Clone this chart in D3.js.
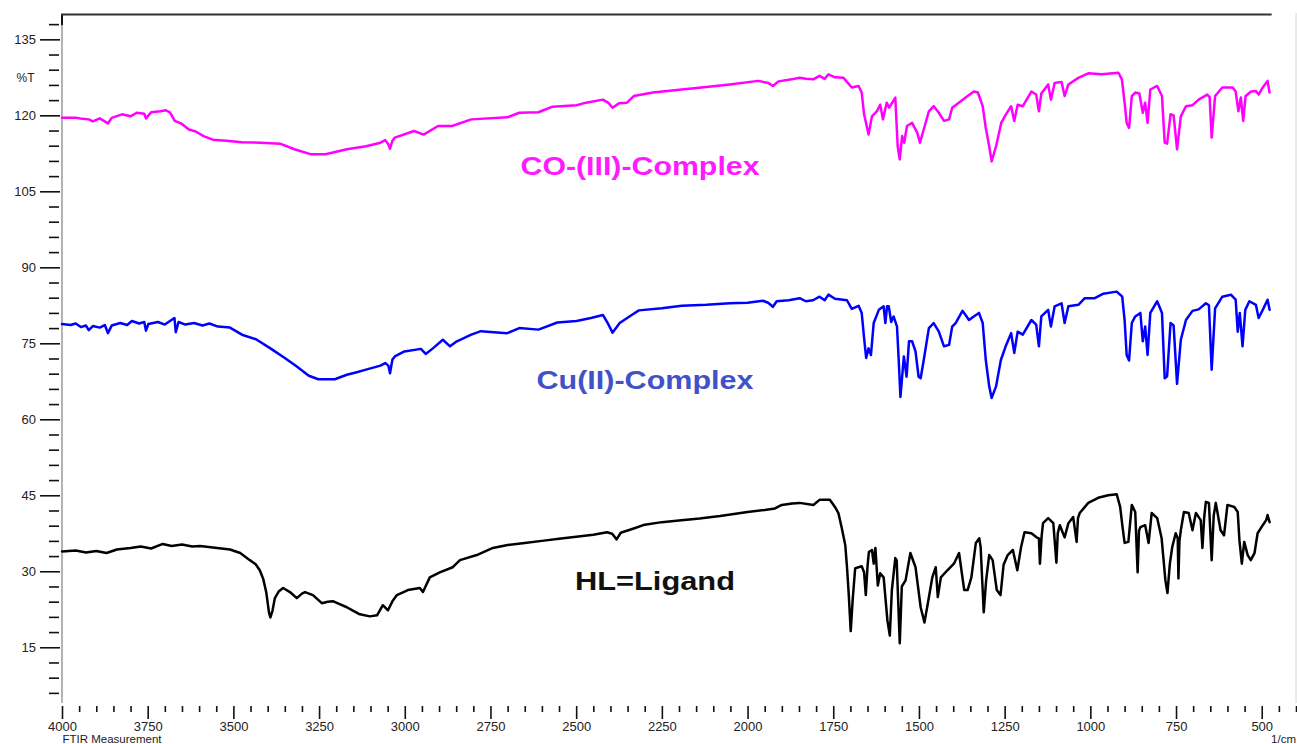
<!DOCTYPE html>
<html>
<head>
<meta charset="utf-8">
<script src="https://cdn.jsdelivr.net/npm/d3@7"></script>
<style>
  html, body { margin: 0; padding: 0; background: #fff; }
  svg { display: block; font-family: "Liberation Sans", Arial, sans-serif; }
</style>
</head>
<body>
<svg id="chart" width="1297" height="744"></svg>
<script>
// FTIR spectra: [wavenumber (1/cm), transmittance (%T)]
const ligand = [
  [4000,33.9],[3960,34.1],[3930,33.7],[3900,34.0],[3870,33.6],[3840,34.3],[3800,34.6],[3770,34.9],
  [3740,34.5],[3706,35.4],[3680,35.0],[3650,35.3],[3620,34.9],[3597,35.0],[3560,34.7],[3510,34.3],
  [3480,33.6],[3452,32.2],[3435,31.4],[3423,30.2],[3413,28.5],[3404,25.8],[3396,21.8],[3392,20.9],
  [3386,22.2],[3379,24.7],[3368,26.0],[3355,26.7],[3335,25.9],[3315,24.7],[3300,25.6],[3291,25.9],
  [3268,25.3],[3242,23.7],[3225,24.0],[3210,24.1],[3190,23.5],[3169,22.9],[3150,22.2],[3131,21.5],
  [3102,21.1],[3081,21.3],[3064,23.3],[3049,22.3],[3035,24.2],[3023,25.3],[2991,26.3],[2956,26.7],
  [2947,25.9],[2927,28.8],[2898,29.8],[2860,30.8],[2839,32.2],[2790,33.2],[2743,34.6],[2700,35.2],
  [2650,35.6],[2600,36.0],[2550,36.4],[2500,36.8],[2450,37.2],[2410,37.7],[2395,37.4],[2382,36.3],
  [2370,37.6],[2330,38.5],[2300,39.2],[2250,39.7],[2200,40.0],[2140,40.4],[2080,40.9],[2000,41.7],
  [1950,42.1],[1920,42.4],[1900,43.1],[1870,43.4],[1848,43.5],[1808,43.1],[1790,44.1],[1760,44.1],
  [1745,42.7],[1735,41.5],[1725,38.5],[1715,35.2],[1710,30.9],[1705,25.7],[1699,18.2],[1693,24.7],
  [1686,30.6],[1667,31.0],[1660,29.8],[1655,25.3],[1650,31.0],[1646,33.8],[1637,34.2],[1632,31.5],
  [1627,34.6],[1620,27.2],[1613,29.6],[1603,28.8],[1592,20.3],[1585,17.3],[1579,26.3],[1569,32.6],
  [1565,32.2],[1556,15.8],[1550,27.0],[1539,28.2],[1525,33.6],[1510,30.8],[1495,22.9],[1484,19.9],
  [1474,23.7],[1461,28.8],[1451,30.8],[1445,24.9],[1436,28.8],[1417,30.2],[1398,31.5],[1383,33.6],
  [1368,26.3],[1358,26.3],[1347,28.8],[1334,35.6],[1324,36.5],[1320,34.8],[1311,21.9],[1304,28.2],
  [1295,33.2],[1285,32.2],[1273,26.3],[1262,25.3],[1253,31.3],[1241,33.2],[1226,34.2],[1213,30.2],
  [1202,34.8],[1192,37.7],[1172,37.5],[1157,36.7],[1150,36.5],[1147,31.5],[1142,37.0],[1138,39.5],
  [1123,40.5],[1108,39.5],[1099,31.7],[1095,37.5],[1089,39.1],[1075,36.7],[1064,39.5],[1050,40.7],
  [1040,35.8],[1036,40.5],[1031,41.5],[1006,43.5],[977,44.5],[948,45.0],[923,45.2],[913,42.7],
  [906,38.7],[900,35.6],[889,35.8],[879,43.1],[869,41.7],[862,29.8],[858,38.0],[854,38.7],
  [840,39.1],[830,35.6],[821,41.5],[805,40.5],[792,36.5],[781,28.2],[775,25.7],[768,31.5],
  [761,34.8],[751,37.5],[745,36.5],[743,28.6],[740,36.0],[736,38.1],[727,41.7],[713,41.5],
  [702,38.1],[692,41.5],[678,40.1],[673,34.6],[668,40.5],[663,43.7],[654,43.5],[646,32.2],
  [640,41.0],[634,43.5],[620,38.1],[610,37.1],[600,43.1],[580,42.7],[570,41.7],[565,36.1],
  [558,31.5],[551,35.8],[541,33.2],[532,32.2],[521,33.6],[512,37.5],[497,39.1],[487,40.1],
  [483,41.1],[477,39.7]
];

const cuComplex = [
  [4000,78.8],[3975,78.6],[3960,78.9],[3945,78.2],[3930,78.5],[3922,77.6],[3910,78.4],[3890,78.1],
  [3875,78.6],[3866,77.0],[3855,78.5],[3830,79.0],[3810,78.6],[3796,79.4],[3775,78.9],[3760,79.2],
  [3755,77.5],[3748,78.8],[3720,79.2],[3700,78.7],[3685,79.4],[3672,80.0],[3668,77.2],[3660,79.2],
  [3640,78.7],[3615,79.0],[3590,78.5],[3570,78.9],[3545,78.3],[3510,78.1],[3475,76.7],[3434,75.8],
  [3392,74.0],[3350,72.1],[3315,70.4],[3280,68.6],[3252,67.9],[3204,67.9],[3169,68.8],[3140,69.3],
  [3113,69.8],[3071,70.6],[3057,71.1],[3048,70.6],[3043,69.1],[3036,71.8],[3029,72.4],[3001,73.4],
  [2953,73.9],[2939,72.9],[2918,74.0],[2889,75.7],[2868,74.4],[2848,75.4],[2806,76.7],[2778,77.4],
  [2740,77.2],[2701,77.0],[2666,78.0],[2610,77.7],[2555,79.1],[2499,79.4],[2457,80.0],[2422,80.6],
  [2408,79.0],[2394,77.1],[2373,79.0],[2338,80.6],[2317,81.5],[2250,81.9],[2192,82.4],[2120,82.6],
  [2052,82.9],[2000,83.0],[1955,83.4],[1940,83.0],[1926,82.2],[1915,83.3],[1880,83.5],[1848,83.9],
  [1830,83.3],[1809,83.5],[1790,84.2],[1775,83.5],[1764,84.6],[1745,83.8],[1710,83.5],[1696,81.8],
  [1676,82.4],[1667,81.0],[1660,76.0],[1654,72.1],[1647,74.0],[1640,72.7],[1632,79.0],[1617,81.6],
  [1603,82.3],[1598,79.0],[1593,82.3],[1588,82.3],[1581,79.2],[1574,80.3],[1564,78.3],[1559,71.7],
  [1554,64.4],[1549,68.4],[1544,72.4],[1536,68.4],[1529,75.4],[1520,75.4],[1510,73.4],[1501,68.4],
  [1495,68.1],[1486,71.7],[1471,78.0],[1457,79.0],[1442,77.3],[1427,74.4],[1412,74.7],[1403,78.3],
  [1393,79.0],[1373,81.4],[1364,80.6],[1354,79.6],[1340,80.3],[1325,81.0],[1314,79.0],[1305,71.7],
  [1295,66.5],[1288,64.2],[1275,66.5],[1261,71.7],[1247,74.4],[1231,77.0],[1222,73.1],[1212,77.3],
  [1197,76.7],[1172,79.6],[1158,78.7],[1150,74.4],[1143,80.3],[1123,81.6],[1115,78.3],[1104,82.3],
  [1084,82.9],[1075,79.0],[1064,82.3],[1035,82.6],[1016,83.9],[987,83.9],[962,84.8],[923,85.2],
  [907,84.2],[900,79.6],[894,72.7],[887,71.6],[879,79.0],[869,80.3],[854,81.0],[847,75.4],
  [840,78.3],[833,72.7],[825,81.0],[805,83.3],[791,81.0],[783,68.1],[776,68.5],[766,79.0],
  [757,78.5],[747,67.0],[736,75.7],[721,79.6],[702,81.4],[684,81.7],[663,82.9],[654,82.5],
  [646,69.8],[636,81.9],[615,84.2],[590,84.6],[576,83.6],[570,77.3],[564,81.0],[556,74.4],
  [548,81.6],[536,83.3],[517,82.6],[509,80.0],[497,81.6],[483,83.6],[477,81.6]
];

const coComplex = [
  [4000,119.5],[3960,119.5],[3940,119.3],[3922,119.2],[3910,118.8],[3890,119.4],[3866,118.4],[3855,119.5],
  [3825,120.2],[3800,119.8],[3782,120.5],[3760,120.3],[3755,119.4],[3740,120.6],[3713,120.8],[3697,121.0],
  [3685,120.6],[3671,118.9],[3650,118.3],[3630,117.2],[3610,116.8],[3587,115.9],[3560,115.2],[3520,115.0],
  [3476,114.7],[3420,114.6],[3364,114.4],[3322,113.3],[3273,112.3],[3231,112.3],[3200,112.8],[3169,113.3],
  [3113,113.9],[3071,114.6],[3057,115.1],[3048,114.3],[3043,113.4],[3036,115.0],[3029,115.6],[2973,116.9],
  [2945,116.2],[2903,117.9],[2862,117.9],[2806,119.2],[2701,119.6],[2666,120.5],[2610,120.6],[2569,121.7],
  [2499,122.0],[2471,122.5],[2422,123.1],[2405,122.4],[2394,121.5],[2375,122.4],[2352,122.5],[2332,123.8],
  [2276,124.5],[2192,125.1],[2120,125.6],[2052,126.1],[1969,126.8],[1940,126.4],[1926,125.8],[1910,126.7],
  [1871,127.1],[1848,127.4],[1830,127.2],[1808,127.1],[1790,127.8],[1775,127.2],[1764,128.1],[1745,127.5],
  [1720,127.4],[1696,125.5],[1676,125.8],[1667,124.5],[1660,120.2],[1647,116.2],[1637,119.8],[1623,120.8],
  [1613,122.1],[1605,119.2],[1594,122.5],[1587,121.5],[1569,123.5],[1562,113.9],[1556,111.3],[1549,115.9],
  [1543,114.6],[1535,117.9],[1520,118.5],[1505,116.6],[1497,114.6],[1486,117.2],[1471,120.8],[1457,121.8],
  [1442,120.5],[1427,118.9],[1412,119.2],[1403,121.5],[1378,122.8],[1358,123.8],[1340,124.7],[1328,124.5],
  [1314,121.8],[1305,117.5],[1295,113.9],[1288,110.9],[1275,113.9],[1260,118.5],[1246,120.2],[1231,121.8],
  [1222,118.9],[1212,122.1],[1197,121.8],[1172,124.7],[1158,124.1],[1150,120.8],[1143,124.3],[1123,126.1],
  [1115,123.1],[1104,126.4],[1084,126.6],[1075,123.8],[1064,126.1],[1035,127.4],[1006,128.3],[967,128.1],
  [918,128.4],[908,127.1],[900,122.5],[894,118.5],[887,117.5],[879,123.8],[869,124.5],[857,124.3],
  [847,120.5],[840,122.5],[833,118.5],[825,125.1],[805,125.8],[791,123.8],[783,114.6],[776,114.4],
  [766,120.2],[757,120.0],[747,113.3],[736,119.8],[721,121.8],[702,122.0],[684,123.1],[659,124.1],
  [652,123.6],[646,115.6],[636,123.8],[615,125.5],[585,125.5],[576,124.7],[568,120.8],[561,123.5],
  [554,118.9],[547,123.8],[531,124.7],[517,124.8],[509,124.1],[497,125.5],[483,126.8],[477,124.5]
];

const seriesNames = ["CO-(III)-Complex", "Cu(II)-Complex", "HL=Ligand"];

// Axis ticks
const xMajorTicks = [4000, 3750, 3500, 3250, 3000, 2750, 2500, 2250, 2000, 1750, 1500, 1250, 1000, 750, 500];
const yMajorTicks = [15, 30, 45, 60, 75, 90, 105, 120, 135];
const xMinorTicks = d3.range(4000, 399, -50).filter(v => v % 250 !== 0);
const yMinorTicks = d3.range(6, 139, 3).filter(v => v % 15 !== 0);

const yUnit = "%T";
const xUnit = "1/cm";
const footer = "FTIR Measurement";

// ---- drawing ----
const svg = d3.select("#chart");
const x = d3.scaleLinear().domain([4000, 400]).range([62, 1296]);
const y = d3.scaleLinear().domain([4, 140]).range([703, 14]);

const plotTop = y(140), plotBottom = y(4), plotLeft = x(4000), plotRight = x(400);
const dataEnd = d3.min(ligand, d => d[0]);

// frame
svg.append("line").attr("x1", plotLeft).attr("x2", plotLeft)
  .attr("y1", y(137.8)).attr("y2", plotBottom)
  .attr("stroke", "#9a9a9a").attr("stroke-width", 1.5);
svg.append("line").attr("x1", plotLeft).attr("x2", plotLeft)
  .attr("y1", plotTop).attr("y2", y(137.8))
  .attr("stroke", "#111").attr("stroke-width", 2);
svg.append("line").attr("x1", plotLeft - 1).attr("x2", x(dataEnd - 6))
  .attr("y1", plotTop + 0.5).attr("y2", plotTop + 0.5)
  .attr("stroke", "#333").attr("stroke-width", 2.2);
svg.append("line").attr("x1", plotRight).attr("x2", plotRight)
  .attr("y1", plotTop - 1).attr("y2", plotBottom)
  .attr("stroke", "#d4d4d4").attr("stroke-width", 1);

// y axis
const yMajor = svg.append("g").attr("transform", `translate(${plotLeft - 2},0)`)
  .call(d3.axisLeft(y).tickValues(yMajorTicks).tickSize(20).tickPadding(4));
const yMinor = svg.append("g").attr("transform", `translate(${plotLeft - 3},0)`)
  .call(d3.axisLeft(y).tickValues(yMinorTicks).tickSize(10).tickFormat(""));

// x axis
const xMajor = svg.append("g").attr("transform", `translate(0,${plotBottom + 3})`)
  .call(d3.axisBottom(x).tickValues(xMajorTicks).tickSize(13).tickPadding(3).tickFormat(d3.format("d")));
const xMinor = svg.append("g").attr("transform", `translate(0,${plotBottom + 3})`)
  .call(d3.axisBottom(x).tickValues(xMinorTicks).tickSize(6).tickFormat(""));

[yMajor, yMinor, xMajor, xMinor].forEach(g => {
  g.select(".domain").remove();
  g.selectAll(".tick line").attr("stroke", "#111").attr("stroke-width", 1.6);
  g.selectAll(".tick text").attr("fill", "#222")
    .style("font-family", '"Liberation Sans", Arial, sans-serif').style("font-size", "13px");
});

svg.append("text").attr("x", 25.5).attr("y", y(127.5) + 4.5)
  .attr("text-anchor", "middle").attr("fill", "#222")
  .style("font-size", "12px").text(yUnit);
svg.append("text").attr("x", 1296).attr("y", 742.5)
  .attr("text-anchor", "end")
  .attr("fill", "#222").style("font-size", "11.5px").text(xUnit);
svg.append("text").attr("x", plotLeft + 0.5).attr("y", 742.5)
  .attr("fill", "#222").style("font-size", "11.5px").text(footer);

// spectra
const line = d3.line().x(d => x(d[0])).y(d => y(d[1]));
const spectra = [
  { data: coComplex, color: "#ff00ff" },
  { data: cuComplex, color: "#0000ff" },
  { data: ligand, color: "#000000" }
];
svg.append("g").selectAll("path").data(spectra).join("path")
  .attr("d", d => line(d.data))
  .attr("fill", "none")
  .attr("stroke", d => d.color)
  .attr("stroke-width", 2.5)
  .attr("stroke-linejoin", "round")
  .attr("stroke-linecap", "round");

// series labels
const labelStyle = [
  { color: "#ff1aff", x: 520.5, y: 174.5, w: 239 },
  { color: "#4152c8", x: 536.5, y: 389, w: 217 },
  { color: "#111111", x: 575, y: 589.5, w: 160 }
];
svg.append("g").selectAll("text").data(seriesNames).join("text")
  .attr("x", (d, i) => labelStyle[i].x)
  .attr("y", (d, i) => labelStyle[i].y)
  .attr("textLength", (d, i) => labelStyle[i].w)
  .attr("lengthAdjust", "spacingAndGlyphs")
  .attr("fill", (d, i) => labelStyle[i].color)
  .style("font-size", "26px").style("font-weight", "bold")
  .text(d => d);
</script>
</body>
</html>
